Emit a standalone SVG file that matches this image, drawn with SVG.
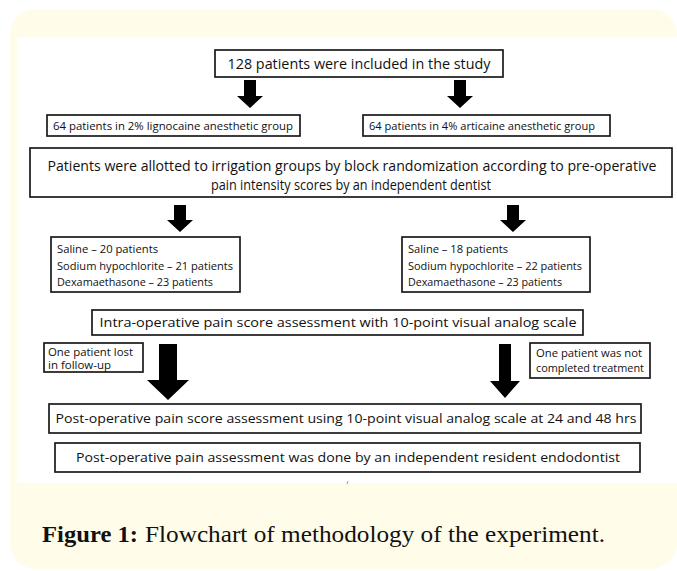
<svg xmlns="http://www.w3.org/2000/svg" width="677" height="571" viewBox="0 0 677 571">
<defs>
<style>
.box{fill:#fff;stroke:#1a1a1a;stroke-width:1.7}
.t{font-family:"Open Sans","Noto Sans","Liberation Sans",sans-serif;fill:#111}
.arr{fill:#000}
.cap{font-family:"Liberation Serif","DejaVu Serif",serif;font-size:23px;fill:#111}
</style>
</defs>
<rect x="10" y="9" width="667" height="560" rx="26" fill="#fffce9"/>
<rect x="17" y="37" width="660" height="446" fill="#fff"/>
<g id="connectors">
<polygon class="arr" points="244,80 256,80 256,96 263,96 250,108 237,96 244,96"/>
<polygon class="arr" points="454,80 466,80 466,96 473,96 460,108 447,96 454,96"/>
<polygon class="arr" points="174,205 186,205 186,220 193,220 180,232 167,220 174,220"/>
<polygon class="arr" points="507,205 519,205 519,220 526,220 513,232 500,220 507,220"/>
<polygon class="arr" points="159,344 177,344 177,380 189,380 168,400 147,380 159,380"/>
<polygon class="arr" points="499,344 511,344 511,381 520,381 505,398 490,381 499,381"/>
<line x1="348" y1="481" x2="347" y2="484" stroke="#888" stroke-width="0.8"/>
</g>
<g id="n1"><rect class="box" x="215" y="50" width="288" height="27"/><text class="t" x="359" y="68.5" font-size="14" text-anchor="middle" textLength="263" lengthAdjust="spacingAndGlyphs">128 patients were included in the study</text></g>
<g id="n2a"><rect class="box" x="47" y="115" width="253" height="21"/><text class="t" x="53" y="129.5" font-size="10.5" textLength="240" lengthAdjust="spacingAndGlyphs">64 patients in 2% lignocaine anesthetic group</text></g>
<g id="n2b"><rect class="box" x="363" y="115" width="247" height="21"/><text class="t" x="369" y="129.5" font-size="10.5" textLength="226" lengthAdjust="spacingAndGlyphs">64 patients in 4% articaine anesthetic group</text></g>
<g id="n3"><rect class="box" x="30" y="148" width="642" height="49"/><text class="t" font-size="14" text-anchor="middle"><tspan x="352" y="171" textLength="609" lengthAdjust="spacingAndGlyphs">Patients were allotted to irrigation groups by block randomization according to pre-operative</tspan><tspan x="351" y="190" textLength="280" lengthAdjust="spacingAndGlyphs">pain intensity scores by an independent dentist</tspan></text></g>
<g id="n4a"><rect class="box" x="51" y="237" width="189" height="55"/><text class="t" font-size="11"><tspan x="57" y="253" textLength="101" lengthAdjust="spacingAndGlyphs">Saline – 20 patients</tspan><tspan x="57" y="270" textLength="176" lengthAdjust="spacingAndGlyphs">Sodium hypochlorite – 21 patients</tspan><tspan x="57" y="286" textLength="156" lengthAdjust="spacingAndGlyphs">Dexamaethasone – 23 patients</tspan></text></g>
<g id="n4b"><rect class="box" x="402" y="237" width="188" height="55"/><text class="t" font-size="11"><tspan x="408" y="253" textLength="100" lengthAdjust="spacingAndGlyphs">Saline – 18 patients</tspan><tspan x="408" y="270" textLength="174" lengthAdjust="spacingAndGlyphs">Sodium hypochlorite – 22 patients</tspan><tspan x="408" y="286" textLength="154" lengthAdjust="spacingAndGlyphs">Dexamaethasone – 23 patients</tspan></text></g>
<g id="n5"><rect class="box" x="92" y="310" width="491" height="25"/><text class="t" x="338" y="327" font-size="13.5" text-anchor="middle" textLength="477" lengthAdjust="spacingAndGlyphs">Intra-operative pain score assessment with 10-point visual analog scale</text></g>
<g id="n6a"><rect class="box" x="44" y="343" width="99" height="29"/><text class="t" font-size="10.5"><tspan x="48" y="356" textLength="85" lengthAdjust="spacingAndGlyphs">One patient lost</tspan><tspan x="48" y="369" textLength="63" lengthAdjust="spacingAndGlyphs">in follow-up</tspan></text></g>
<g id="n6b"><rect class="box" x="530" y="343" width="120" height="35"/><text class="t" font-size="10.5"><tspan x="536" y="357" textLength="106" lengthAdjust="spacingAndGlyphs">One patient  was not</tspan><tspan x="536" y="372" textLength="108" lengthAdjust="spacingAndGlyphs">completed treatment</tspan></text></g>
<g id="n7"><rect class="box" x="49" y="404" width="592" height="29"/><text class="t" x="346" y="423" font-size="13.5" text-anchor="middle" textLength="581" lengthAdjust="spacingAndGlyphs">Post-operative pain score assessment using 10-point visual analog scale  at 24 and 48 hrs</text></g>
<g id="n8"><rect class="box" x="55" y="443" width="585" height="29"/><text class="t" x="348" y="462" font-size="13.5" text-anchor="middle" textLength="544" lengthAdjust="spacingAndGlyphs">Post-operative pain assessment was done by an independent resident endodontist</text></g>
<text class="cap" x="42" y="542" font-weight="bold" textLength="96" lengthAdjust="spacingAndGlyphs">Figure 1:</text>
<text class="cap" x="145" y="542" textLength="460" lengthAdjust="spacingAndGlyphs">Flowchart of methodology of the experiment.</text>
</svg>
